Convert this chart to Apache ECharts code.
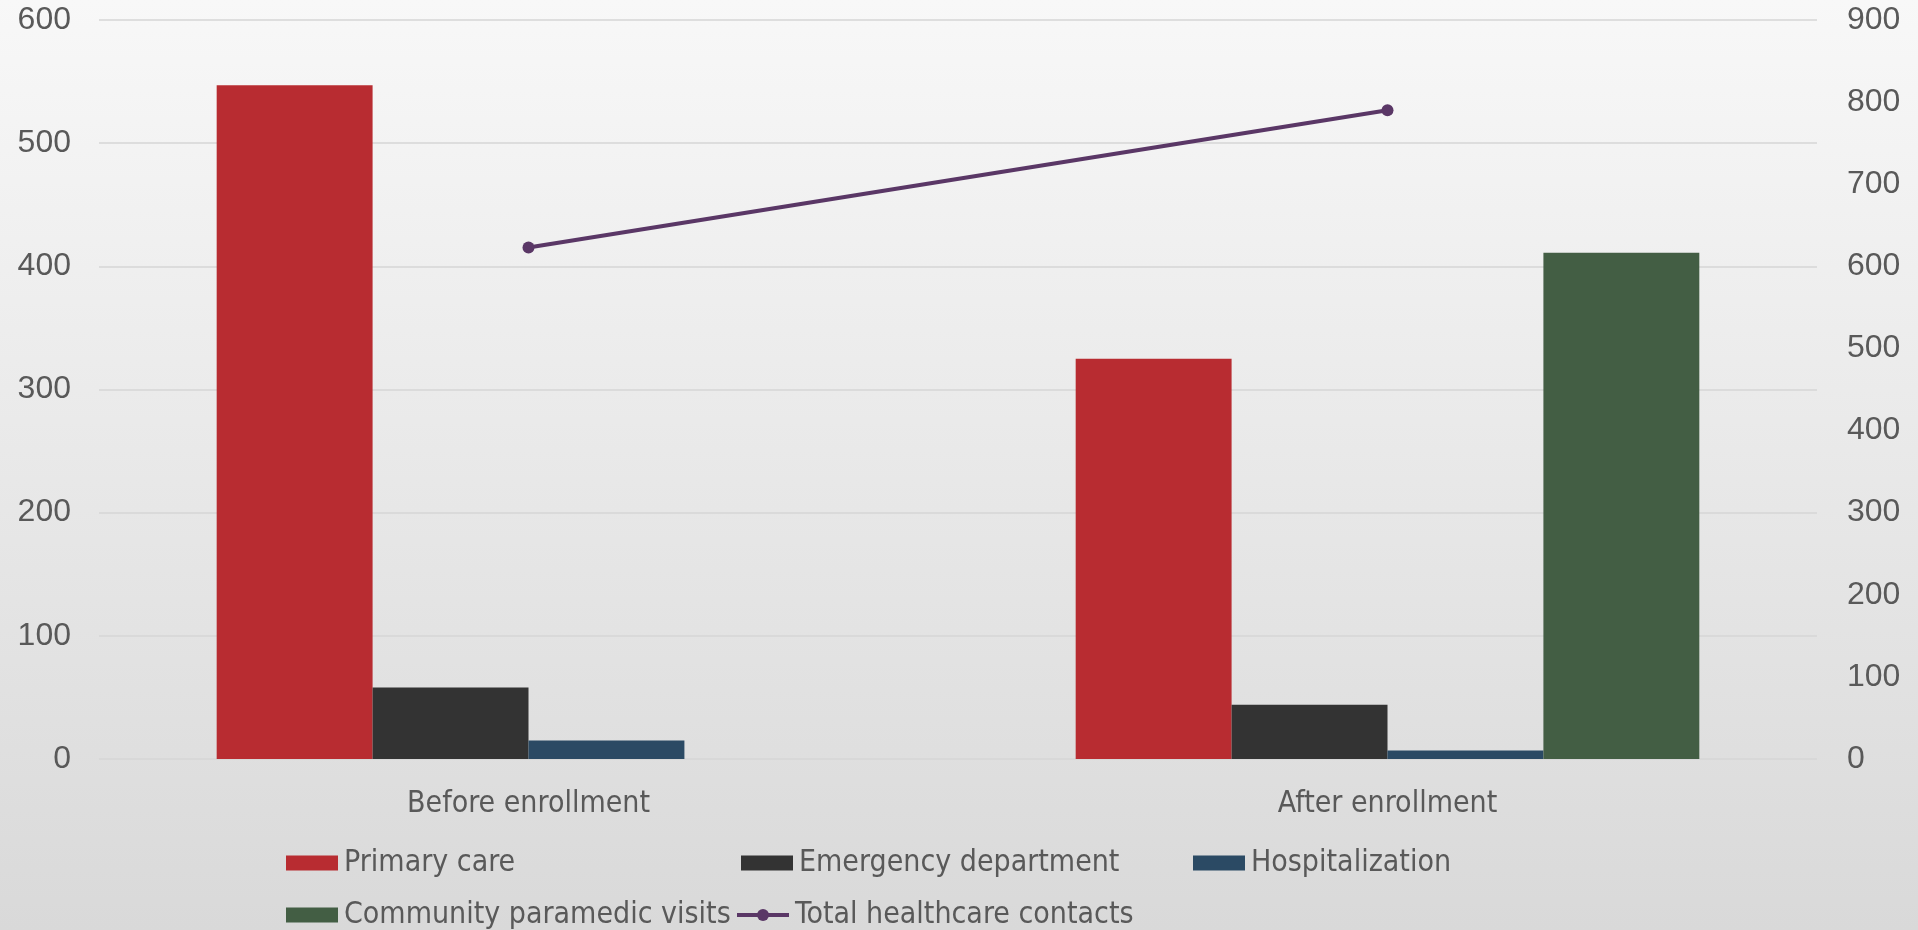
<!DOCTYPE html>
<html>
<head>
<meta charset="utf-8">
<script src="https://cdn.jsdelivr.net/npm/echarts@6/dist/echarts.min.js"></script>
<style>
html,body{margin:0;padding:0;}
#chart{width:1918px;height:930px;}
</style>
</head>
<body>
<div id="chart"></div>
<script>
const categories = ['Before enrollment', 'After enrollment'];
const primaryCare = [547, 325];
const emergencyDept = [58, 44];
const hospitalization = [15, 7];
const communityParamedic = [null, 411];
const totalContacts = [623, 790];
const leftTicks = {min: 0, max: 600, interval: 100};
const rightTicks = {min: 0, max: 900, interval: 100};

const condFont = "'Liberation Sans Narrow', 'DejaVu Sans Condensed', 'Arial Narrow', sans-serif";
const numFont = "'Liberation Sans', Arial, sans-serif";
const txt = '#595959';

const chart = echarts.init(document.getElementById('chart'));

function legendAt(name, left, top, isLine) {
  const l = {
    data: [{name: name, icon: isLine ? undefined : 'rect'}],
    left: left, top: top,
    padding: 0,
    itemWidth: 52, itemHeight: 15,
    itemGap: 0,
    textStyle: {fontFamily: condFont, fontSize: 30, color: txt, padding: [0, 0, 0, 1]},
    selectedMode: false
  };
  if (isLine) {
    l.lineStyle = {width: 4};
  }
  return l;
}

const option = {
  animation: false,
  backgroundColor: new echarts.graphic.LinearGradient(0, 0, 0, 1, [
    {offset: 0, color: '#f8f8f8'},
    {offset: 1, color: '#d9d9d9'}
  ]),
  grid: {left: 99, right: 101, top: 20, bottom: 171, containLabel: false},
  legend: [
    legendAt('Primary care', 286, 848),
    legendAt('Emergency department', 741, 848),
    legendAt('Hospitalization', 1193, 848),
    legendAt('Community paramedic visits', 286, 900),
    legendAt('Total healthcare contacts', 735, 900, true)
  ],
  xAxis: {
    type: 'category',
    data: categories,
    axisLine: {show: false},
    axisTick: {show: false},
    axisLabel: {fontFamily: condFont, fontSize: 30, color: txt, margin: 30}
  },
  yAxis: [
    {
      type: 'value', min: leftTicks.min, max: leftTicks.max, interval: leftTicks.interval,
      axisLine: {show: false}, axisTick: {show: false},
      axisLabel: {fontFamily: numFont, fontSize: 32, color: txt, margin: 28},
      splitLine: {lineStyle: {color: '#d6d6d6', width: 1.5}}
    },
    {
      type: 'value', min: rightTicks.min, max: rightTicks.max, interval: rightTicks.interval,
      position: 'right',
      axisLine: {show: false}, axisTick: {show: false},
      axisLabel: {fontFamily: numFont, fontSize: 32, color: txt, margin: 30},
      splitLine: {show: false}
    }
  ],
  series: [
    {name: 'Primary care', type: 'bar', data: primaryCare, itemStyle: {color: '#b82c31'}, barGap: '0%', barCategoryGap: '27.4%'},
    {name: 'Emergency department', type: 'bar', data: emergencyDept, itemStyle: {color: '#333333'}},
    {name: 'Hospitalization', type: 'bar', data: hospitalization, itemStyle: {color: '#2b4a64'}},
    {name: 'Community paramedic visits', type: 'bar', data: communityParamedic, itemStyle: {color: '#435e44'}},
    {name: 'Total healthcare contacts', type: 'line', yAxisIndex: 1, data: totalContacts,
      symbol: 'circle', symbolSize: 12,
      lineStyle: {color: '#5a3766', width: 4},
      itemStyle: {color: '#5a3766'}}
  ]
};
chart.setOption(option);
</script>
</body>
</html>
